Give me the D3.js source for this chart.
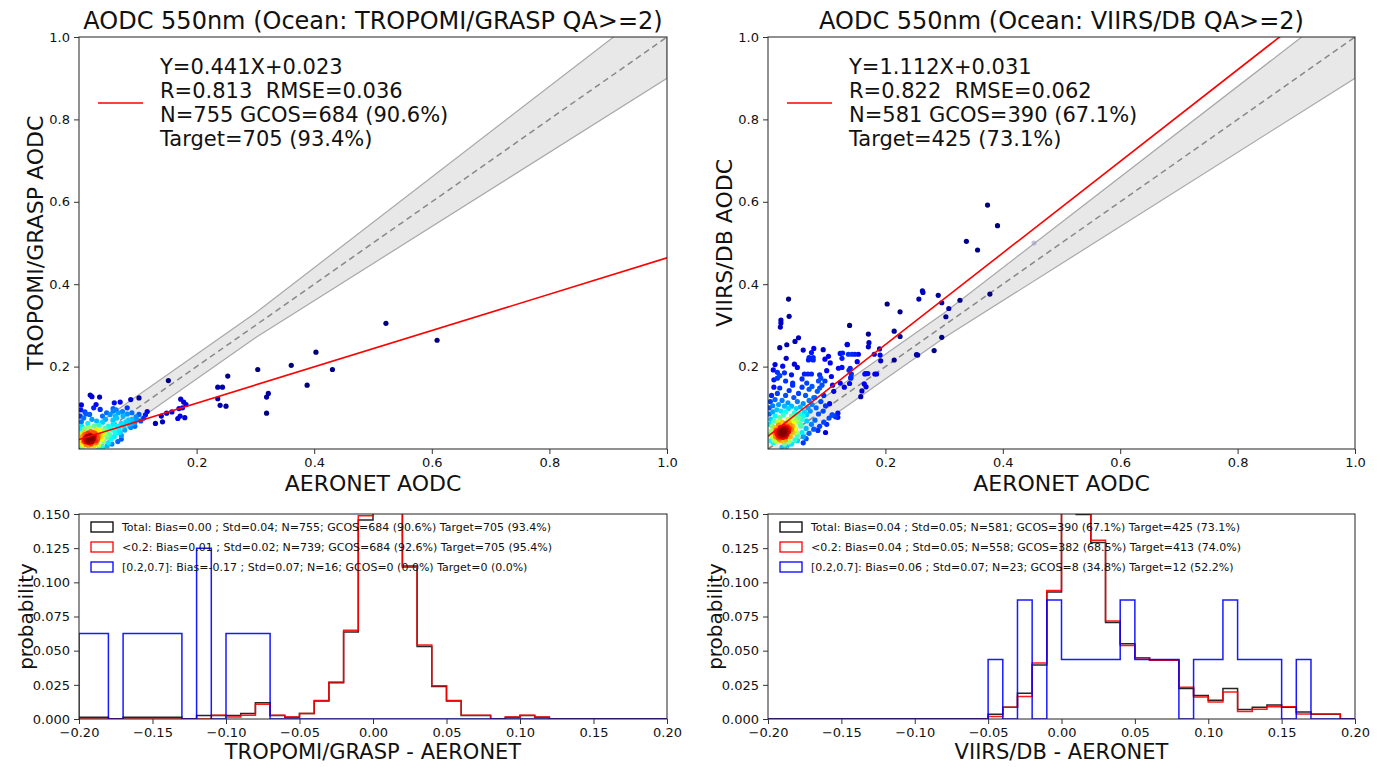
<!DOCTYPE html>
<html>
<head>
<meta charset="utf-8">
<script src="https://cdn.jsdelivr.net/npm/d3@7"></script>
<style>
  body { margin: 0; background: #fff; }
  text { font-family: "DejaVu Sans", sans-serif; fill: #111; white-space: pre; }
</style>
</head>
<body>
<svg id="fig" width="1384" height="767"></svg>
<script>
// ---------- data ----------
const titles = ["AODC 550nm (Ocean: TROPOMI/GRASP QA>=2)", "AODC 550nm (Ocean: VIIRS/DB QA>=2)"];
const yLabels = ["TROPOMI/GRASP AODC", "VIIRS/DB AODC"];
const histLabels = ["TROPOMI/GRASP - AERONET", "VIIRS/DB - AERONET"];
const fitSlope = [0.441, 1.112];
const fitIntercept = [0.023, 0.031];
const fitText = [
  ["Y=0.441X+0.023", "R=0.813  RMSE=0.036", "N=755 GCOS=684 (90.6%)", "Target=705 (93.4%)"],
  ["Y=1.112X+0.031", "R=0.822  RMSE=0.062", "N=581 GCOS=390 (67.1%)", "Target=425 (73.1%)"]
];
const histLegend = [
  ["Total: Bias=0.00 ; Std=0.04; N=755; GCOS=684 (90.6%) Target=705 (93.4%)",
   "<0.2: Bias=0.01 ; Std=0.02; N=739; GCOS=684 (92.6%) Target=705 (95.4%)",
   "[0.2,0.7]: Bias=-0.17 ; Std=0.07; N=16; GCOS=0 (0.0%) Target=0 (0.0%)"],
  ["Total: Bias=0.04 ; Std=0.05; N=581; GCOS=390 (67.1%) Target=425 (73.1%)",
   "<0.2: Bias=0.04 ; Std=0.05; N=558; GCOS=382 (68.5%) Target=413 (74.0%)",
   "[0.2,0.7]: Bias=0.06 ; Std=0.07; N=23; GCOS=8 (34.8%) Target=12 (52.2%)"]
];

// scatter points [AERONET, satellite]
const leftCore = [
  [0.010,0.020],[0.012,0.024],[0.014,0.018],[0.015,0.026],[0.016,0.022],[0.018,0.028],[0.018,0.020],[0.020,0.024],
  [0.020,0.030],[0.022,0.026],[0.013,0.030],[0.011,0.027],[0.017,0.016],[0.021,0.019],[0.023,0.022],[0.024,0.029],
  [0.016,0.031],[0.019,0.025],[0.014,0.023],[0.012,0.017],[0.009,0.024],[0.025,0.025],[0.017,0.019],[0.021,0.027],
  [0.015,0.020],[0.008,0.018],[0.026,0.031],[0.013,0.021],[0.019,0.033],[0.022,0.017],
  [0.005,0.015],[0.006,0.030],[0.004,0.022],[0.028,0.020],[0.030,0.034],[0.032,0.027],[0.027,0.038],[0.010,0.035],
  [0.007,0.010],[0.012,0.011],[0.020,0.012],[0.029,0.015],[0.034,0.033],[0.036,0.040],[0.024,0.040],[0.015,0.038],
  [0.003,0.028],[0.002,0.012],[0.031,0.022],[0.038,0.030],[0.040,0.038],[0.035,0.045],[0.025,0.008],[0.016,0.008],
  [0.009,0.040],[0.003,0.036],[0.042,0.044],[0.044,0.036],[0.033,0.010],[0.039,0.024],[0.047,0.042],[0.029,0.045],
  [0.020,0.042],[0.006,0.005],[0.045,0.050],
  [0.002,0.048],[0.005,0.055],[0.010,0.050],[0.018,0.052],[0.026,0.056],[0.034,0.058],[0.050,0.055],[0.055,0.048],
  [0.058,0.060],[0.052,0.035],[0.060,0.045],[0.065,0.055],[0.048,0.028],[0.042,0.018],[0.055,0.025],[0.062,0.038],
  [0.068,0.050],[0.072,0.062],[0.076,0.056],[0.080,0.066],[0.085,0.060],[0.070,0.040],[0.078,0.046],[0.040,0.065],
  [0.030,0.068],[0.015,0.062],[0.004,0.066],[0.008,0.075],[0.022,0.072],[0.045,0.072],[0.058,0.070],[0.064,0.075],
  [0.090,0.072],[0.088,0.052],[0.095,0.064],[0.050,0.015],[0.038,0.005],[0.060,0.030],[0.002,0.080],[0.012,0.085],
  [0.040,0.003],[0.048,0.008],[0.056,0.012],[0.066,0.018],[0.072,0.024],[0.035,0.002]
];
const leftOutliers = [
  [0.522,0.305],[0.609,0.264],[0.403,0.235],[0.361,0.203],[0.431,0.193],[0.304,0.193],[0.388,0.155],[0.253,0.177],
  [0.236,0.150],[0.244,0.150],[0.236,0.122],[0.240,0.106],[0.250,0.104],[0.322,0.135],[0.319,0.126],[0.319,0.087],
  [0.152,0.166],[0.173,0.121],[0.178,0.114],[0.182,0.108],[0.176,0.100],[0.170,0.098],[0.172,0.080],[0.180,0.076],
  [0.168,0.074],[0.158,0.090],[0.149,0.087],[0.140,0.080],[0.130,0.062],[0.142,0.066],[0.116,0.091],[0.102,0.124],
  [0.088,0.120],[0.070,0.114],[0.004,0.107],[0.019,0.131],[0.022,0.127],[0.035,0.126],[0.029,0.108],[0.018,0.084],
  [0.036,0.096],[0.047,0.088],[0.053,0.084],[0.067,0.088],[0.075,0.080],[0.084,0.070],[0.090,0.062],[0.067,0.040],
  [0.072,0.033],[0.003,0.095],[0.010,0.090],[0.025,0.100],[0.040,0.080],[0.058,0.092],[0.062,0.080],[0.098,0.072],
  [0.105,0.068],[0.110,0.075],[0.058,0.098],[0.063,0.095],[0.074,0.091],[0.082,0.085],[0.090,0.088],[0.097,0.078],
  [0.102,0.084],[0.113,0.083],[0.095,0.055],[0.060,0.112],[0.082,0.100]
];
const rightCore = [
  [0.018,0.032],[0.020,0.036],[0.022,0.040],[0.024,0.038],[0.026,0.044],[0.028,0.042],[0.030,0.046],[0.021,0.030],
  [0.019,0.042],[0.025,0.034],[0.027,0.048],[0.032,0.040],[0.023,0.045],[0.016,0.036],[0.029,0.036],[0.031,0.050],
  [0.017,0.028],[0.034,0.046],[0.022,0.034],[0.026,0.039],[0.020,0.046],[0.028,0.032],[0.015,0.040],[0.033,0.054],
  [0.024,0.050],[0.013,0.030],[0.035,0.042],[0.019,0.024],[0.030,0.030],[0.027,0.055],[0.021,0.052],[0.036,0.050],
  [0.014,0.046],[0.025,0.028],[0.032,0.035],
  [0.010,0.022],[0.012,0.038],[0.008,0.030],[0.040,0.048],[0.038,0.058],[0.042,0.055],[0.036,0.064],[0.030,0.062],
  [0.044,0.062],[0.046,0.070],[0.040,0.070],[0.050,0.066],[0.048,0.078],[0.052,0.075],[0.018,0.058],[0.012,0.052],
  [0.006,0.044],[0.009,0.015],[0.015,0.018],[0.022,0.020],[0.030,0.022],[0.038,0.030],[0.042,0.040],[0.046,0.050],
  [0.055,0.060],[0.058,0.072],[0.054,0.085],[0.060,0.080],[0.024,0.065],[0.034,0.072],[0.004,0.036],[0.007,0.056],
  [0.016,0.066],[0.040,0.080],[0.062,0.090],[0.066,0.084],[0.045,0.088],[0.005,0.020],[0.028,0.012],[0.036,0.018],
  [0.003,0.060],[0.005,0.072],[0.010,0.068],[0.012,0.080],[0.020,0.076],[0.026,0.082],[0.008,0.090],[0.015,0.095],
  [0.022,0.092],[0.030,0.090],[0.035,0.098],[0.028,0.104],[0.018,0.108],[0.008,0.105],[0.004,0.115],[0.012,0.120],
  [0.024,0.118],[0.034,0.112],[0.040,0.104],[0.048,0.098],[0.055,0.102],[0.060,0.110],[0.068,0.100],[0.072,0.092],
  [0.075,0.108],[0.082,0.100],[0.070,0.118],[0.050,0.115],[0.044,0.125],[0.030,0.130],[0.016,0.135],[0.006,0.130],
  [0.020,0.148],[0.036,0.142],[0.052,0.135],[0.064,0.130],[0.078,0.125],[0.090,0.115],[0.086,0.085],[0.080,0.070],
  [0.074,0.060],[0.065,0.050],[0.058,0.040],[0.050,0.032],[0.046,0.022],[0.040,0.012],[0.032,0.006],[0.024,0.004],
  [0.094,0.092],[0.098,0.105],[0.010,0.150],[0.042,0.155],[0.058,0.150],[0.070,0.145],[0.084,0.140],[0.002,0.100],
  [0.002,0.085],[0.066,0.068],[0.056,0.056],[0.048,0.040],
  [0.050,0.020],[0.060,0.030],[0.070,0.038],[0.078,0.048],[0.088,0.055],[0.095,0.065],[0.104,0.075],[0.110,0.082],
  [0.060,0.015],[0.065,0.025],[0.085,0.045],[0.100,0.060],[0.115,0.078],[0.098,0.040]
];
const rightOutliers = [
  [0.374,0.592],[0.391,0.542],[0.338,0.504],[0.357,0.483],[0.263,0.384],[0.264,0.380],[0.290,0.373],[0.257,0.364],
  [0.203,0.352],[0.296,0.355],[0.327,0.361],[0.308,0.341],[0.303,0.321],[0.225,0.333],[0.215,0.286],[0.225,0.273],
  [0.296,0.271],[0.253,0.229],[0.283,0.239],[0.378,0.376],[0.139,0.300],[0.171,0.279],[0.172,0.258],[0.135,0.254],
  [0.127,0.233],[0.126,0.220],[0.143,0.230],[0.148,0.230],[0.154,0.230],[0.152,0.212],[0.140,0.196],[0.138,0.191],
  [0.142,0.182],[0.141,0.172],[0.192,0.214],[0.185,0.182],[0.166,0.183],[0.170,0.183],[0.164,0.158],[0.160,0.141],
  [0.119,0.087],[0.215,0.216],[0.035,0.364],[0.036,0.322],[0.022,0.313],[0.022,0.306],[0.021,0.296],[0.032,0.253],
  [0.020,0.246],[0.052,0.270],[0.046,0.261],[0.031,0.220],[0.045,0.206],[0.025,0.201],[0.009,0.192],[0.016,0.186],
  [0.016,0.172],[0.020,0.178],[0.010,0.168],[0.060,0.240],[0.074,0.234],[0.078,0.244],[0.070,0.222],[0.069,0.216],
  [0.077,0.222],[0.077,0.216],[0.094,0.241],[0.103,0.225],[0.097,0.218],[0.106,0.209],[0.062,0.182],[0.068,0.182],
  [0.074,0.182],[0.088,0.180],[0.090,0.172],[0.086,0.165],[0.097,0.165],[0.092,0.155],[0.088,0.148],[0.120,0.196],
  [0.126,0.198],[0.123,0.160],[0.130,0.150],[0.110,0.155],[0.112,0.140],[0.123,0.232],[0.137,0.230],[0.135,0.253],
  [0.171,0.248],[0.181,0.230],[0.190,0.243],[0.191,0.228],[0.139,0.159],[0.141,0.174],[0.165,0.182],[0.167,0.151],
  [0.158,0.127],[0.182,0.182],[0.105,0.110],[0.109,0.083],[0.119,0.077],[0.080,0.125],[0.095,0.130],[0.255,0.228],
  [0.100,0.190],[0.108,0.176],[0.050,0.198],[0.058,0.170],[0.040,0.180],[0.030,0.165],[0.042,0.160],[0.066,0.160],
  [0.075,0.152],[0.028,0.185],[0.012,0.205]
];
// a very faint marker inside the envelope of the right panel
const rightFaint = [[0.453, 0.500]];

// histograms: 40 bins of 0.01 from -0.20 to 0.20, probability per bin
const binEdges = d3.range(41).map(i => -0.2 + i * 0.01);
const leftTotal = [0.0013,0.0013,0,0.0013,0.0013,0.0013,0.0013,0,0.0026,0.0026,0.0026,0.0040,0.0119,0.0026,0.0013,0.0040,
  0.0132,0.0265,0.0636,0.1457,0.26,0.24,0.112,0.0530,0.0238,0.0132,0.0026,0.0026,0,0.0013,0.0026,0.0013,0,0,0,0,0,0,0,0];
const leftLow = [0,0,0,0,0,0,0,0,0,0.0027,0.0014,0.0027,0.0108,0.0027,0.0014,0.0041,
  0.0135,0.0271,0.0650,0.1488,0.265,0.245,0.111,0.0541,0.0244,0.0135,0.0027,0.0027,0,0.0014,0.0027,0.0014,0,0,0,0,0,0,0,0];
const leftHigh = [0.0625,0.0625,0,0.0625,0.0625,0.0625,0.0625,0,0.125,0,0.0625,0.0625,0.0625,0,0,0,
  0,0,0,0,0,0,0,0,0,0,0,0,0,0,0,0,0,0,0,0,0,0,0,0];
const rightTotal = [0,0,0,0,0,0,0,0,0,0,0,0,0,0,0,0.0034,0.0086,0.0189,0.0396,0.0929,0.20,0.1497,0.1291,0.0706,
  0.0551,0.0448,0.0430,0.0430,0.0224,0.0172,0.0138,0.0224,0.0069,0.0086,0.0103,0.0086,0.0052,0.0034,0.0034,0];
const rightLow = [0,0,0,0,0,0,0,0,0,0,0,0,0,0,0,0.0018,0.0086,0.0165,0.0410,0.0940,0.205,0.1505,0.1308,0.0717,
  0.0538,0.0448,0.0430,0.0430,0.0233,0.0161,0.0125,0.0197,0.0054,0.0072,0.0090,0.0090,0.0036,0.0036,0.0036,0];
const rightHigh = [0,0,0,0,0,0,0,0,0,0,0,0,0,0,0,0.0435,0,0.087,0,0.087,0.0435,0.0435,0.0435,0.0435,
  0.087,0.0435,0.0435,0.0435,0,0.0435,0.0435,0.087,0.0435,0.0435,0.0435,0,0.0435,0,0,0];

const scatterTicks = [0.2, 0.4, 0.6, 0.8, 1.0];
const histXTicks = [-0.20, -0.15, -0.10, -0.05, 0.00, 0.05, 0.10, 0.15, 0.20];
const histYTicks = [0, 0.025, 0.05, 0.075, 0.1, 0.125, 0.15];
const histColors = ["black", "red", "blue"];

// ---------- drawing ----------
const svg = d3.select("#fig");
const jet = d3.scaleLinear()
  .domain([0, 0.125, 0.375, 0.625, 0.875, 1])
  .range(["#00007f", "#0000ff", "#00ffff", "#ffff00", "#ff0000", "#7f0000"])
  .clamp(true);

const panels = [
  {left: 79, right: 667, pts: leftCore.concat(leftOutliers), faint: [], hist: [leftTotal, leftLow, leftHigh]},
  {left: 768, right: 1355, pts: rightCore.concat(rightOutliers), faint: rightFaint, hist: [rightTotal, rightLow, rightHigh]}
];

function styleAxis(g) {
  g.select(".domain").remove();
  g.selectAll(".tick line").attr("stroke", "#333");
  g.selectAll(".tick text").style("font-size", "13px").attr("fill", "#222");
}

panels.forEach((p, k) => {
  // ----- scatter -----
  const top = 37, bottom = 449;
  const x = d3.scaleLinear().domain([0, 1]).range([p.left, p.right]);
  const y = d3.scaleLinear().domain([0, 1]).range([bottom, top]);
  const clipId = "clipS" + k;
  svg.append("clipPath").attr("id", clipId).append("rect")
    .attr("x", p.left).attr("y", top).attr("width", p.right - p.left).attr("height", bottom - top);
  const plot = svg.append("g").attr("clip-path", `url(#${clipId})`);

  // GCOS envelope: max(0.03, 10%)
  const env = d => Math.max(0.03, 0.1 * d);
  const bx = [0, 0.3, 1.0];
  const band = bx.map(d => [d, d + env(d)]).concat(bx.slice().reverse().map(d => [d, d - env(d)]));
  plot.append("path")
    .attr("d", d3.line().x(d => x(d[0])).y(d => y(d[1]))(band) + "Z")
    .attr("fill", "#e8e8e8").attr("stroke", "#a8a8a8").attr("stroke-width", 1.2);
  plot.append("line")
    .attr("x1", x(0)).attr("y1", y(0)).attr("x2", x(1)).attr("y2", y(1))
    .attr("stroke", "#888").attr("stroke-width", 1.5).attr("stroke-dasharray", "6,4");

  plot.selectAll("circle.faint").data(p.faint).enter().append("circle")
    .attr("class", "faint")
    .attr("cx", d => x(d[0])).attr("cy", d => y(d[1])).attr("r", 2.5)
    .attr("fill", "#9a9ac8").attr("opacity", 0.6);

  // density-coloured points
  const px = p.pts.map(d => [x(d[0]), y(d[1])]);
  const sig = 7;
  const dens = px.map(a => d3.sum(px, b => Math.exp(-((a[0]-b[0])**2 + (a[1]-b[1])**2) / (2*sig*sig))));
  const dmax = d3.max(dens);
  const pts = px.map((d, i) => ({x: d[0], y: d[1], t: (dens[i] - 1) / (dmax - 1)}))
    .sort((a, b) => a.t - b.t);
  plot.selectAll("circle.pt").data(pts).enter().append("circle")
    .attr("class", "pt")
    .attr("cx", d => d.x).attr("cy", d => d.y).attr("r", 2.6)
    .attr("fill", d => jet(Math.pow(d.t, 0.9)));

  // regression line
  plot.append("line")
    .attr("x1", x(0)).attr("y1", y(fitIntercept[k]))
    .attr("x2", x(1)).attr("y2", y(fitSlope[k] + fitIntercept[k]))
    .attr("stroke", "red").attr("stroke-width", 1.6);

  svg.append("rect").attr("x", p.left).attr("y", top).attr("width", p.right - p.left).attr("height", bottom - top)
    .attr("fill", "none").attr("stroke", "#222").attr("stroke-width", 1);

  svg.append("g").attr("transform", `translate(0,${bottom})`)
    .call(d3.axisBottom(x).tickValues(scatterTicks).tickFormat(d3.format(".1f")).tickSize(5).tickPadding(4))
    .call(styleAxis);
  svg.append("g").attr("transform", `translate(${p.left},0)`)
    .call(d3.axisLeft(y).tickValues(scatterTicks).tickFormat(d3.format(".1f")).tickSize(5).tickPadding(4))
    .call(styleAxis);

  const cx = (p.left + p.right) / 2;
  svg.append("text").attr("x", cx).attr("y", 29).attr("text-anchor", "middle")
    .style("font-size", "24px").text(titles[k]);
  svg.append("text").attr("x", cx).attr("y", 491).attr("text-anchor", "middle")
    .style("font-size", "22px").text("AERONET AODC");
  svg.append("text").attr("transform", `translate(${p.left - 36},${(top + bottom) / 2}) rotate(-90)`)
    .attr("text-anchor", "middle").style("font-size", "22px").text(yLabels[k]);

  // legend
  svg.append("line").attr("x1", p.left + 19).attr("x2", p.left + 64).attr("y1", 103).attr("y2", 103)
    .attr("stroke", "red").attr("stroke-width", 1.6);
  fitText[k].forEach((s, i) => {
    svg.append("text").attr("x", p.left + 81).attr("y", 74 + i * 24)
      .style("font-size", "21px").text(s);
  });

  // ----- histogram -----
  const hTop = 514, hBottom = 719;
  const hx = d3.scaleLinear().domain([-0.2, 0.2]).range([p.left, p.right]);
  const hy = d3.scaleLinear().domain([0, 0.15]).range([hBottom, hTop]);
  const hClip = "clipH" + k;
  svg.append("clipPath").attr("id", hClip).append("rect")
    .attr("x", p.left).attr("y", hTop).attr("width", p.right - p.left).attr("height", hBottom - hTop);
  const hplot = svg.append("g").attr("clip-path", `url(#${hClip})`);
  const stepLine = d3.line().x(d => hx(d[0])).y(d => hy(d[1]));
  p.hist.forEach((vals, j) => {
    const steps = [[binEdges[0], 0]];
    vals.forEach((v, i) => { steps.push([binEdges[i], v]); steps.push([binEdges[i + 1], v]); });
    steps.push([binEdges[binEdges.length - 1], 0]);
    hplot.append("path").attr("d", stepLine(steps))
      .attr("fill", "none").attr("stroke", histColors[j]).attr("stroke-width", 1.5)
      .attr("stroke-opacity", j === 0 ? 0.85 : 0.9);
  });
  svg.append("rect").attr("x", p.left).attr("y", hTop).attr("width", p.right - p.left).attr("height", hBottom - hTop)
    .attr("fill", "none").attr("stroke", "#222").attr("stroke-width", 1);
  svg.append("g").attr("transform", `translate(0,${hBottom})`)
    .call(d3.axisBottom(hx).tickValues(histXTicks).tickFormat(d3.format(".2f")).tickSize(5).tickPadding(4))
    .call(styleAxis);
  svg.append("g").attr("transform", `translate(${p.left},0)`)
    .call(d3.axisLeft(hy).tickValues(histYTicks).tickFormat(d3.format(".3f")).tickSize(5).tickPadding(4))
    .call(styleAxis);
  svg.append("text").attr("x", cx).attr("y", 759).attr("text-anchor", "middle")
    .style("font-size", "21px").text(histLabels[k]);
  svg.append("text").attr("transform", `translate(${p.left - 46},${(hTop + hBottom) / 2}) rotate(-90)`)
    .attr("text-anchor", "middle").style("font-size", "20px").text("probability");

  histLegend[k].forEach((s, i) => {
    const ly = 527 + i * 20;
    svg.append("rect").attr("x", p.left + 12).attr("y", ly - 5).attr("width", 22).attr("height", 10)
      .attr("fill", "none").attr("stroke", histColors[i]).attr("stroke-width", 1.3);
    svg.append("text").attr("x", p.left + 43).attr("y", ly + 4).style("font-size", "11px").text(s);
  });
});
</script>
</body>
</html>
